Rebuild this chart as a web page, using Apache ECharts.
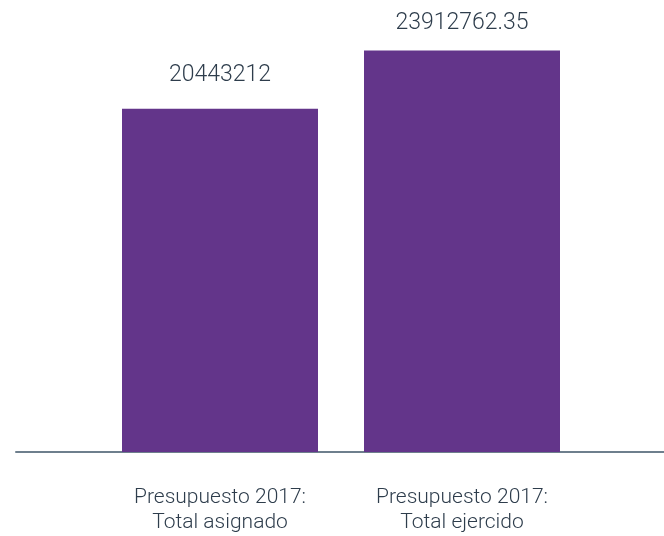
<!DOCTYPE html>
<html>
<head>
<meta charset="utf-8">
<script src="https://cdn.jsdelivr.net/npm/echarts@6/dist/echarts.min.js"></script>
<style>
  html, body { margin: 0; padding: 0; background: #fff; }
  #main { width: 664px; height: 536px; }
</style>
</head>
<body>
<div id="main"></div>
<script>
var categories = ['Presupuesto 2017:\nTotal asignado', 'Presupuesto 2017:\nTotal ejercido'];
var values = [20443212, 23912762.35];
var labelGaps = [22, 16];

var textColor = '#2e3d4c';
var barColor = '#63358a';

var myChart = echarts.init(document.getElementById('main'));

var barData = values.map(function(v, i) {
	return {
		value: v,
		label: { distance: labelGaps[i] }
	};
});

var option = {
	animation: false,
	grid: [{
		left: 16, right: 0, top: 49, bottom: 84, outerBoundsMode: 'none'
	}, {
		left: 99, width: 484, top: 49, bottom: 84, outerBoundsMode: 'none'
	}],
	xAxis: [{
		gridIndex: 0,
		type: 'category',
		data: [''],
		axisLine: { show: true, lineStyle: { color: '#6e7f8d', width: 2 } },
		axisTick: { show: false },
		axisLabel: { show: false }
	}, {
		gridIndex: 1,
		type: 'category',
		data: categories,
		axisLine: { show: false },
		axisTick: { show: false },
		axisLabel: {
			margin: 33,
			color: textColor,
			fontFamily: 'Roboto',
			fontWeight: 300,
			fontSize: 21,
			lineHeight: 25
		}
	}],
	yAxis: [{
		gridIndex: 0, type: 'value', min: 0, max: 24000000, show: false
	}, {
		gridIndex: 1, type: 'value', min: 0, max: 24000000, show: false
	}],
	series: [{
		type: 'bar',
		xAxisIndex: 1,
		yAxisIndex: 1,
		barWidth: 196,
		itemStyle: { color: barColor },
		label: {
			show: true,
			position: 'top',
			color: textColor,
			fontFamily: 'Roboto',
			fontWeight: 300,
			fontSize: 23
		},
		data: barData
	}]
};

myChart.setOption(option);
</script>
</body>
</html>
